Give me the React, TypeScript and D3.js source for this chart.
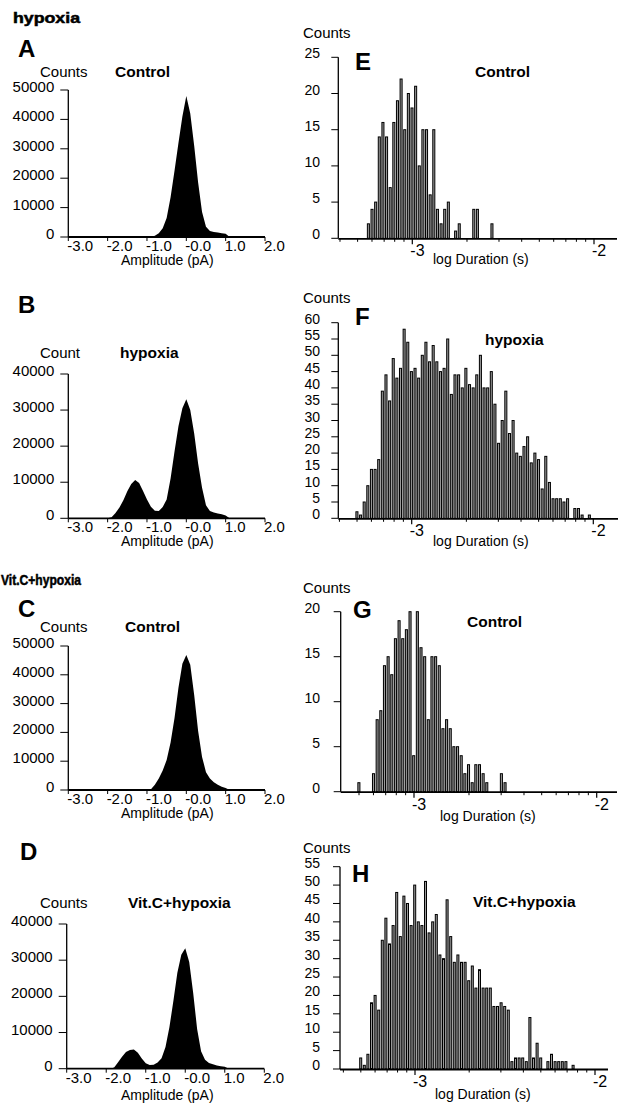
import React, { useEffect, useRef } from 'react';
import * as d3 from 'd3';

const FONT = '"Liberation Sans", Arial, Helvetica, sans-serif';

// ---- amplitude histograms (left column), counts every 0.1 on the amplitude axis
const ampTickValues = [-3, -2, -1, 0, 1, 2];
const ampTickLabels = ['-3.0', '-2.0', '-1.0', '-0.0', '1.0', '2.0'];
const ampStep = 0.1;

const ampStartA = -1.0;
const ampCountsA = [0, 0, 400, 1300, 3000, 6500, 13500, 22500, 32000, 41000, 48000, 42000, 31000, 18500, 8500, 3500, 2000, 1700, 1500, 1300, 1100, 0];

const ampStartB = -2.0;
const ampCountsB = [0, 300, 1500, 3000, 5000, 7500, 9500, 10600, 9800, 7600, 5200, 3200, 2100, 2000, 3100, 5200, 11000, 18500, 25500, 30500, 33000, 30000, 23500, 15200, 8500, 3600, 2000, 1600, 1300, 1100, 800, 0];

const ampStartC = -1.0;
const ampCountsC = [0, 300, 1800, 4000, 6800, 10400, 16500, 25000, 35500, 43800, 46900, 43500, 33000, 20500, 11500, 6200, 4000, 2700, 1800, 1100, 700, 0];

const ampStartD = -1.9;
const ampCountsD = [0, 300, 1800, 3300, 4600, 5200, 5300, 4400, 2800, 1500, 1000, 1100, 1700, 2900, 6000, 11500, 18800, 26500, 31500, 33300, 29500, 21000, 11000, 4800, 2500, 1600, 1200, 900, 700, 550, 0];

const ampTicks50k = [0, 10000, 20000, 30000, 40000, 50000];
const ampTicks40k = [0, 10000, 20000, 30000, 40000];

// ---- log duration histograms (right column), bins of 0.02 log units
const durBinStart = -3.31;
const durBinWidth = 0.02;
const durMajorTicks = [-3, -2];
const durMajorLabels = ['-3', '-2'];

const durCountsE = [0, 0, 0, 2, 4, 5, 14, 16, 14, 7, 16, 19, 22, 15, 20, 18, 21, 10, 15, 15, 6, 15, 4, 2, 4, 5, 0, 1, 2, 0, 0, 0, 4, 4, 0, 0, 0, 2];
const durCountsF = [2, 1, 5, 10, 15, 15, 18, 39, 44, 36, 49, 43, 46, 58, 54, 45, 46, 43, 50, 54, 48, 53, 48, 45, 46, 55, 38, 44, 44, 40, 46, 41, 40, 44, 50, 40, 40, 45, 35, 23, 30, 39, 26, 30, 20, 19, 22, 25, 17, 20, 18, 9, 19, 11, 6, 6, 6, 5, 6, 0, 3, 3, 1, 0, 1];
const durCountsG = [1, 0, 0, 0, 2, 8, 9, 14, 15, 13, 17, 19, 17, 18, 20, 4, 20, 16, 15, 8, 15, 15, 14, 7, 8, 7, 5, 5, 4, 2, 3, 1, 3, 3, 2, 1, 0, 0, 0, 2, 1];
const durCountsH = [3, 1, 4, 18, 20, 16, 35, 41, 34, 39, 48, 36, 47, 45, 39, 50, 40, 39, 51, 37, 40, 42, 31, 30, 46, 36, 29, 31, 29, 29, 24, 28, 22, 27, 22, 22, 22, 17, 17, 18, 17, 16, 2, 3, 3, 3, 2, 14, 3, 7, 3, 0, 2, 4, 2, 2, 2, 2, 0, 1];

const countTicksE = [0, 5, 10, 15, 20, 25];
const countTicksF = [0, 5, 10, 15, 20, 25, 30, 35, 40, 45, 50, 55, 60];
const countTicksG = [0, 5, 10, 15, 20];
const countTicksH = [0, 5, 10, 15, 20, 25, 30, 35, 40, 45, 50, 55];

// log minor ticks between 4e-4 and 1e-2
const durMinorTicks: number[] = [];
[1e-4, 1e-3].forEach(dec => {
  for (let k = 2; k <= 9; k++) {
    const v = Math.log10(k * dec);
    if (v > -3.41) durMinorTicks.push(v);
  }
});

const leftPanels = [
  { letter: 'A', letterX: 18, letterY: 57, countsLabel: 'Counts', labelY: 77, title: 'Control', titleX: 115,
    start: ampStartA, counts: ampCountsA, yTicks: ampTicks50k, yTop: 90, yZero: 237,
    axisX: 68.3, axisEnd: 265, tickY: 251, axisLabelY: 265 },
  { letter: 'B', letterX: 18, letterY: 313, countsLabel: 'Count', labelY: 358, title: 'hypoxia', titleX: 120,
    start: ampStartB, counts: ampCountsB, yTicks: ampTicks40k, yTop: 374, yZero: 518.3,
    axisX: 68.3, axisEnd: 265, tickY: 532, axisLabelY: 546 },
  { letter: 'C', letterX: 18, letterY: 617, countsLabel: 'Counts', labelY: 632, title: 'Control', titleX: 125,
    start: ampStartC, counts: ampCountsC, yTicks: ampTicks50k, yTop: 646, yZero: 790,
    axisX: 68.3, axisEnd: 265, tickY: 804, axisLabelY: 818 },
  { letter: 'D', letterX: 20, letterY: 860, countsLabel: 'Counts', labelY: 908, title: 'Vit.C+hypoxia', titleX: 128,
    start: ampStartD, counts: ampCountsD, yTicks: ampTicks40k, yTop: 924, yZero: 1068.7,
    axisX: 66.7, axisEnd: 264.3, tickY: 1083, axisLabelY: 1100 },
];

const rightPanels = [
  { letter: 'E', letterX: 355, letterY: 70, countsY: 38, title: 'Control', titleX: 475, titleY: 77,
    counts: durCountsE, yTicks: countTicksE, yTop: 57.3, yZero: 238.3,
    axisX: 338.3, x3: 412.3, x2: 594, axisEnd: 617, axisLabelX: 433, axisLabelY: 264 },
  { letter: 'F', letterX: 355, letterY: 325, countsY: 303, title: 'hypoxia', titleX: 485, titleY: 344.5,
    counts: durCountsF, yTicks: countTicksF, yTop: 322.7, yZero: 518.3,
    axisX: 338.3, x3: 411.7, x2: 593.3, axisEnd: 618, axisLabelX: 433, axisLabelY: 546 },
  { letter: 'G', letterX: 353, letterY: 618, countsY: 593, title: 'Control', titleX: 467, titleY: 627,
    counts: durCountsG, yTicks: countTicksG, yTop: 611.7, yZero: 791.7,
    axisX: 340.7, x3: 414, x2: 596.7, axisEnd: 617, axisLabelX: 440, axisLabelY: 821 },
  { letter: 'H', letterX: 352, letterY: 882, countsY: 853, title: 'Vit.C+hypoxia', titleX: 473, titleY: 907,
    counts: durCountsH, yTicks: countTicksH, yTop: 866.7, yZero: 1069,
    axisX: 340, x3: 415, x2: 595, axisEnd: 608, axisLabelX: 435, axisLabelY: 1099 },
];

export default function App() {
  const ref = useRef<SVGSVGElement | null>(null);

  useEffect(() => {
    document.body.style.margin = '0';
    const svg = d3.select(ref.current);
    svg.selectAll('*').remove();
    svg.append('rect').attr('width', 621).attr('height', 1104).attr('fill', '#fff');

    const txt = (x: number, y: number, s: string, size: number, weight = 'normal', anchor = 'start') =>
      svg.append('text')
        .attr('x', x).attr('y', y)
        .attr('font-family', FONT)
        .attr('font-size', size)
        .attr('font-weight', weight)
        .attr('text-anchor', anchor)
        .attr('fill', '#000')
        .text(s);

    // section headers
    txt(13, 22.5, 'hypoxia', 14, 'bold').attr('textLength', 67).attr('lengthAdjust', 'spacingAndGlyphs')
      .attr('stroke', '#000').attr('stroke-width', 0.5);
    txt(1, 585, 'Vit.C+hypoxia', 14, 'bold').attr('textLength', 80).attr('lengthAdjust', 'spacingAndGlyphs')
      .attr('stroke', '#000').attr('stroke-width', 0.5);

    // left column: amplitude histograms
    leftPanels.forEach(p => {
      const yMax = p.yTicks[p.yTicks.length - 1];
      const x = d3.scaleLinear().domain([-3, 2]).range([p.axisX, p.axisEnd]);
      const y = d3.scaleLinear().domain([0, yMax]).range([p.yZero, p.yTop]);
      const pts = p.counts.map((c, i) => [p.start + i * ampStep, c] as [number, number]);

      const area = d3.area<[number, number]>()
        .x(d => x(d[0]))
        .y0(p.yZero)
        .y1(d => y(d[1]));
      svg.append('path').attr('d', area(pts) as string).attr('fill', '#000');

      const g = svg.append('g').attr('stroke', '#000').attr('fill', 'none');
      g.append('line').attr('x1', p.axisX).attr('x2', p.axisX).attr('y1', p.yZero).attr('y2', p.yTop).attr('stroke-width', 1.3);
      g.append('line').attr('x1', p.axisX).attr('x2', p.axisEnd).attr('y1', p.yZero).attr('y2', p.yZero).attr('stroke-width', 1.8);
      p.yTicks.forEach(t => {
        g.append('line').attr('x1', p.axisX - 8).attr('x2', p.axisX).attr('y1', y(t)).attr('y2', y(t)).attr('stroke-width', 1);
        txt(p.axisX - 14, y(t) + 2, String(t), 15, 'normal', 'end');
      });
      ampTickValues.forEach((t, i) => {
        g.append('line').attr('x1', x(t)).attr('x2', x(t)).attr('y1', p.yZero).attr('y2', p.yZero + 4).attr('stroke-width', 1);
        txt(x(t) - 1, p.tickY, ampTickLabels[i], 15);
      });

      txt(p.letterX, p.letterY, p.letter, 24, 'bold');
      txt(40, p.labelY, p.countsLabel, 15);
      txt(p.titleX, p.labelY, p.title, 15.5, 'bold');
      txt(121, p.axisLabelY, 'Amplitude (pA)', 14);
    });

    // right column: log duration histograms
    rightPanels.forEach(p => {
      const yMax = p.yTicks[p.yTicks.length - 1];
      const x = d3.scaleLinear().domain([-3, -2]).range([p.x3, p.x2]);
      const y = d3.scaleLinear().domain([0, yMax]).range([p.yZero, p.yTop]);
      const bw = x(durBinWidth) - x(0);

      svg.append('g').selectAll('rect')
        .data(p.counts.map((c, k) => ({ c, left: durBinStart + k * durBinWidth })).filter(d => d.c > 0))
        .join('rect')
        .attr('x', d => x(d.left) + 0.5)
        .attr('y', d => y(d.c))
        .attr('width', bw - 1.6)
        .attr('height', d => p.yZero - y(d.c))
        .attr('fill', '#9a9a9a')
        .attr('stroke', '#000')
        .attr('stroke-width', 1);

      const g = svg.append('g').attr('stroke', '#000').attr('fill', 'none');
      g.append('line').attr('x1', p.axisX).attr('x2', p.axisX).attr('y1', p.yZero).attr('y2', p.yTop).attr('stroke-width', 1.3);
      g.append('line').attr('x1', p.axisX).attr('x2', p.axisEnd).attr('y1', p.yZero + 0.5).attr('y2', p.yZero + 0.5).attr('stroke-width', 1.8);
      p.yTicks.forEach(t => {
        g.append('line').attr('x1', p.axisX - 7).attr('x2', p.axisX).attr('y1', y(t)).attr('y2', y(t)).attr('stroke-width', 1);
        txt(320, y(t) + 1, String(t), 14, 'normal', 'end');
      });
      durMinorTicks.forEach(t => {
        if (x(t) <= p.axisX + 1) return;
        g.append('line').attr('x1', x(t)).attr('x2', x(t)).attr('y1', p.yZero).attr('y2', p.yZero + 3.5).attr('stroke-width', 1);
      });
      durMajorTicks.forEach((t, i) => {
        g.append('line').attr('x1', x(t)).attr('x2', x(t)).attr('y1', p.yZero).attr('y2', p.yZero + 6).attr('stroke-width', 1.2);
        txt(x(t) - 2, p.yZero + 18, durMajorLabels[i], 16);
      });

      txt(p.letterX, p.letterY, p.letter, 24, 'bold');
      txt(303, p.countsY, 'Counts', 15);
      txt(p.titleX, p.titleY, p.title, 15.5, 'bold');
      txt(p.axisLabelX, p.axisLabelY, 'log Duration (s)', 14);
    });
  }, []);

  return (
    <div>
      <svg ref={ref} width={621} height={1104} style={{ display: 'block' }} />
    </div>
  );
}
